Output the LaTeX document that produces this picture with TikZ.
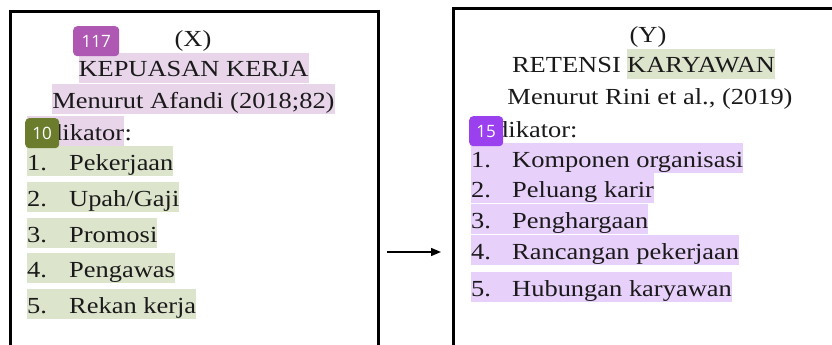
\documentclass[tikz,border=0pt]{standalone}
\usepackage{fontspec}
\setmainfont{Liberation Serif}[FakeStretch=1.15]
\newfontfamily\badgefont{Open Sans}
\usetikzlibrary{arrows.meta}
\definecolor{pinkhl}{HTML}{E8D5EA}
\definecolor{greenhl}{HTML}{DCE4CC}
\definecolor{purplehl}{HTML}{E7D0FA}
\definecolor{badgeA}{HTML}{AE58B3}
\definecolor{badgeB}{HTML}{6B7D2C}
\definecolor{badgeC}{HTML}{9B40EE}
\definecolor{ink}{HTML}{1A1A1A}
\newcommand\itmL[1]{\makebox[42pt][l]{#1}}
\newcommand\itmR[1]{\makebox[41pt][l]{#1}}
\begin{document}
\begin{tikzpicture}[x=1pt,y=-1pt,
  txt/.style={inner sep=0pt, text=ink, font=\fontsize{23}{27}\selectfont},
  hl/.style={txt, inner xsep=0pt, inner ysep=0pt, text height=24pt, text depth=6pt},
  badge/.style={fill=#1, rounded corners=4pt, text=white, font=\badgefont\fontsize{17}{20}\selectfont,
    inner sep=0pt, minimum height=30pt, anchor=north west},
  framebox/.style={draw=black, line width=3pt, outer sep=0pt, anchor=north west, inner sep=0pt}]
\useasboundingbox (0,0) rectangle (832,345);
\clip (0,0) rectangle (832,345);
% frames
\node[framebox, minimum width=368.5pt, minimum height=400pt] (boxX) at (10,11.5) {};
\node[framebox, minimum width=420pt, minimum height=400pt] (boxY) at (453.5,8.5) {};
% left content
\node[txt, anchor=base] (xlab) at (193,47) {(X)};
\node[hl, fill=pinkhl, anchor=base] (kep) at (193.5,77) {KEPUASAN KERJA};
\node[hl, fill=pinkhl, anchor=base] (afa) at (193.5,108) {Menurut Afandi (2018;82)};
\node[hl, fill=pinkhl, anchor=base west] (indL) at (27,140) {Indikator};
\node[txt, anchor=base west] (colL) at (indL.base east) {:};
\node[hl, fill=greenhl, anchor=base west] (l1) at (27,170) {\itmL{1.}Pekerjaan};
\node[hl, fill=greenhl, anchor=base west] (l2) at (27,206) {\itmL{2.}Upah/Gaji};
\node[hl, fill=greenhl, anchor=base west] (l3) at (27,242) {\itmL{3.}Promosi};
\node[hl, fill=greenhl, anchor=base west] (l4) at (27,277) {\itmL{4.}Pengawas};
\node[hl, fill=greenhl, anchor=base west] (l5) at (27,313) {\itmL{5.}Rekan kerja};
% right content
\node[txt, anchor=base] (ylab) at (648,43) {(Y)};
\node[hl, fill=greenhl, anchor=base west] (kar) at (627,73) {KARYAWAN};
\node[txt, anchor=base east] (ret) at ([xshift=-6pt]kar.base west) {RETENSI};
\node[txt, anchor=base] (rin) at (650,104) {Menurut Rini et al., (2019)};
\node[txt, anchor=base west] (indR) at (473,137) {Indikator:};
\node[hl, fill=purplehl, anchor=base west] (r1) at (471,167) {\itmR{1.}Komponen organisasi};
\node[hl, fill=purplehl, anchor=base west] (r2) at (471,197) {\itmR{2.}Peluang karir};
\node[hl, fill=purplehl, anchor=base west] (r3) at (471,228) {\itmR{3.}Penghargaan};
\node[hl, fill=purplehl, anchor=base west] (r4) at (471,259) {\itmR{4.}Rancangan pekerjaan};
\node[hl, fill=purplehl, anchor=base west] (r5) at (471,296) {\itmR{5.}Hubungan karyawan};
% badges
\node[badge=badgeA, minimum width=46pt] (b117) at (73,26) {117};
\node[badge=badgeB, minimum width=34pt] (b10) at (25,118) {10};
\node[badge=badgeC, minimum width=34pt] (b15) at (469,116) {15};
% arrow
\coordinate (a1) at (387,252);
\coordinate (a2) at (441,252);
\draw[line width=1.4pt, -{Triangle[length=10pt,width=8pt]}] (a1) -- (a2);
\end{tikzpicture}
\end{document}
